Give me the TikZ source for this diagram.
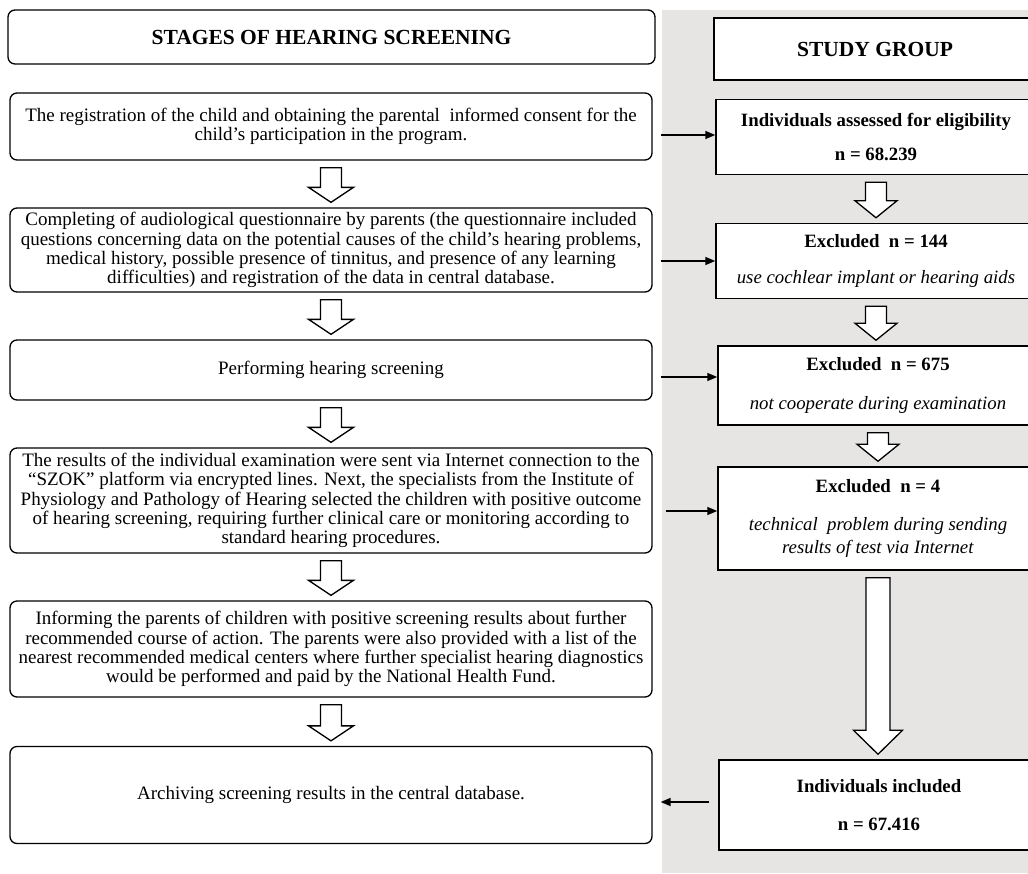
\documentclass[tikz,border=0pt]{standalone}
\usepackage{fontspec}
\setmainfont{Liberation Serif}
\usepackage{tikz}
\usetikzlibrary{arrows.meta, calc}
\definecolor{PanelGrau}{RGB}{231,228,228}

% hollow block arrow: from, to, half shaft, half head, head length
\newcommand{\hollowarrow}[5]{%
  \draw[hollow] let \p1=(#1), \p2=(#2) in
    (\x1-#3pt,\y1-7pt) -- (\x1+#3pt,\y1-7pt) -- (\x1+#3pt,\y2+5pt+#5pt) -- (\x1+#4pt,\y2+5pt+#5pt)
    -- (\x1,\y2+5pt) -- (\x1-#4pt,\y2+5pt+#5pt) -- (\x1-#3pt,\y2+5pt+#5pt) -- cycle;}

\begin{document}
\begin{tikzpicture}[x=1pt, y=-1pt,
    font=\fontsize{19}{19.2}\selectfont,
    stage/.style={draw=black, line width=1.3pt, rounded corners=7pt, align=center,
      minimum width=642pt, inner xsep=1pt},
    group/.style={draw=black, line width=1.5pt, fill=white, align=center,
      minimum width=320pt, inner xsep=1pt, font=\fontsize{18.8}{19.2}\selectfont},
    heading/.style={font=\fontsize{21.5}{24}\selectfont\bfseries},
    hollow/.style={draw=black, line width=1.3pt, fill=white, line join=miter},
    link/.style={line width=1.6pt, -{Triangle[length=10pt,width=8pt]}}]
    \useasboundingbox (0,0) rectangle (1028,873);
    \fill[PanelGrau] (662,10) rectangle (1028,873);

    % stages
    \node[stage, heading, minimum width=647pt, minimum height=54pt] (st) at (331.5,37) {STAGES OF HEARING SCREENING};
    \node[stage, minimum height=67pt] (s1) at (331,126.5) {The registration of the child and obtaining the parental\ \ informed consent for the\\child's participation in the program.};
    \node[stage, minimum height=84pt] (s2) at (331,250) {Completing of audiological questionnaire by parents (the questionnaire included\\questions concerning data on the potential causes of the child's hearing problems,\\medical history, possible presence of tinnitus, and presence of any learning\\difficulties) and registration of the data in central database.};
    \node[stage, minimum height=60pt] (s3) at (331,370) {Performing hearing screening};
    \node[stage, minimum height=105pt] (s4) at (331,500.5) {The results of the individual examination were sent via Internet connection to the\\``SZOK'' platform via encrypted lines. Next, the specialists from the Institute of\\Physiology and Pathology of Hearing selected the children with positive outcome\\of hearing screening, requiring further clinical care or monitoring according to\\standard hearing procedures.};
    \node[stage, minimum height=96pt] (s5) at (331,649) {Informing the parents of children with positive screening results about further\\recommended course of action. The parents were also provided with a list of the\\nearest recommended medical centers where further specialist hearing diagnostics\\would be performed and paid by the National Health Fund.};
    \node[stage, minimum height=97pt] (s6) at (331,795) {Archiving screening results in the central database.};

    % study group
    \node[group, heading, minimum width=322pt, minimum height=62pt] (rt) at (875,49) {STUDY GROUP};
    \node[group, minimum height=75pt] (r1) at (876,137) {\textbf{Individuals assessed for eligibility}\\[14pt]\textbf{n = 68.239}};
    \node[group, minimum height=75pt] (r2) at (876,261) {\textbf{Excluded\ \ n = 144}\\[17pt]\textit{use cochlear implant or hearing aids}};
    \node[group, minimum height=79pt] (r3) at (878,385.5) {\textbf{Excluded\ \ n = 675}\\[19pt]\textit{not cooperate during examination}};
    \node[group, minimum height=103pt] (r4) at (878,518.5) {\textbf{Excluded\ \ n = 4}\\[18pt]\textit{technical\ \ problem during sending}\\[4pt]\textit{results of test via Internet}};
    \node[group, minimum height=90pt] (r5) at (879,805) {\textbf{Individuals included}\\[18pt]\textbf{n = 67.416}};

    % block arrows
    \hollowarrow{s1.south}{s2.north}{10.5}{22.5}{15}
    \hollowarrow{s2.south}{s3.north}{10.5}{22.5}{15}
    \hollowarrow{s3.south}{s4.north}{10.5}{22.5}{15}
    \hollowarrow{s4.south}{s5.north}{10.5}{22.5}{15}
    \hollowarrow{s5.south}{s6.north}{10.5}{22.5}{15}
    \hollowarrow{r1.south}{r2.north}{10.5}{21}{17}
    \hollowarrow{r2.south}{r3.north}{10.5}{21}{17}
    \hollowarrow{r3.south}{r4.north}{10.5}{21}{17}
    \hollowarrow{r4.south}{r5.north}{12}{24.5}{24}

    % links
    \draw[link] ($(s1.east |- r1.west)+(8,-2)$) -- ($(r1.west)+(0,-2)$);
    \draw[link] ($(s2.east |- r2.west)+(8,0)$) -- (r2.west);
    \draw[link] ($(s3.east |- r3.west)+(8,-8.5)$) -- ($(r3.west)+(0,-8.5)$);
    \draw[link] ($(s4.east |- r4.west)+(13,-7.5)$) -- ($(r4.west)+(0,-7.5)$);
    \draw[link] ($(r5.west)+(-9,-3)$) -- ($(s6.east |- r5.west)+(8,-3)$);
\end{tikzpicture}
\end{document}
